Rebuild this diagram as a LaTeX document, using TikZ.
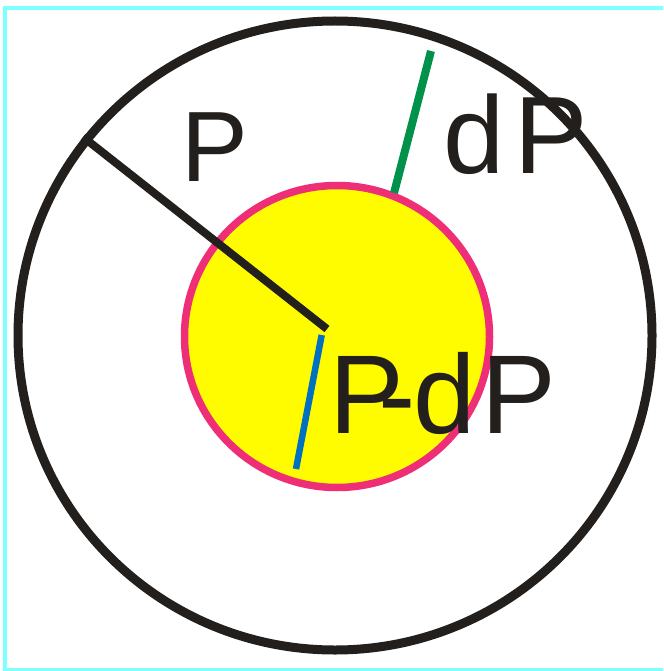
\documentclass[tikz,border=0pt]{standalone}
\usepackage{fontspec}
\setmainfont{Liberation Sans}
\definecolor{ink}{HTML}{231F1C}
\definecolor{rim}{HTML}{EE2F78}
\definecolor{fillyel}{HTML}{FFFC00}
\definecolor{grn}{HTML}{00924A}
\definecolor{blu}{HTML}{0070C0}
\definecolor{frame}{HTML}{80FFFF}
\begin{document}
\begin{tikzpicture}[x=1pt,y=-1pt,
  lbl/.style={text=ink,inner sep=0pt,anchor=base west},
  ray/.style={line width=8pt,line cap=butt}]
\useasboundingbox (0,0) rectangle (663,671);
\begin{scope}
\clip (0,0) rectangle (663,671);
\draw[frame,line width=4pt] (5,8.5) rectangle (670,669.5);
\end{scope}
\draw[ink,line width=9pt] (335,335.5) ellipse [x radius=317,y radius=314.5];
\draw[rim,fill=fillyel,line width=7.5pt] (337,336.5) ellipse [x radius=152.5,y radius=151];
\coordinate (c0) at (327,329);
\coordinate (c1) at (83,137);
\coordinate (g0) at (431,51);
\coordinate (g1) at (394,193);
\coordinate (b0) at (321.7,335);
\coordinate (b1) at (296,469);
\draw[ray,ink,line cap=square,line width=8pt] (c1) -- (c0);
\draw[ray,grn] (g0) -- (g1);
\draw[ray,blu,line width=6.5pt] (b0) -- (b1);
\node[lbl,font=\fontsize{100}{100}\selectfont] (p) at (181.3,181) {P};
\node[lbl,font=\fontsize{110}{110}\selectfont] (dp) at (443,173) {d\kern10ptP};
\node[lbl,font=\fontsize{112}{112}\selectfont] (pdp) at (329.4,433) {P\kern-26pt-\kern-2ptd\kern6ptP};
\end{tikzpicture}
\end{document}
